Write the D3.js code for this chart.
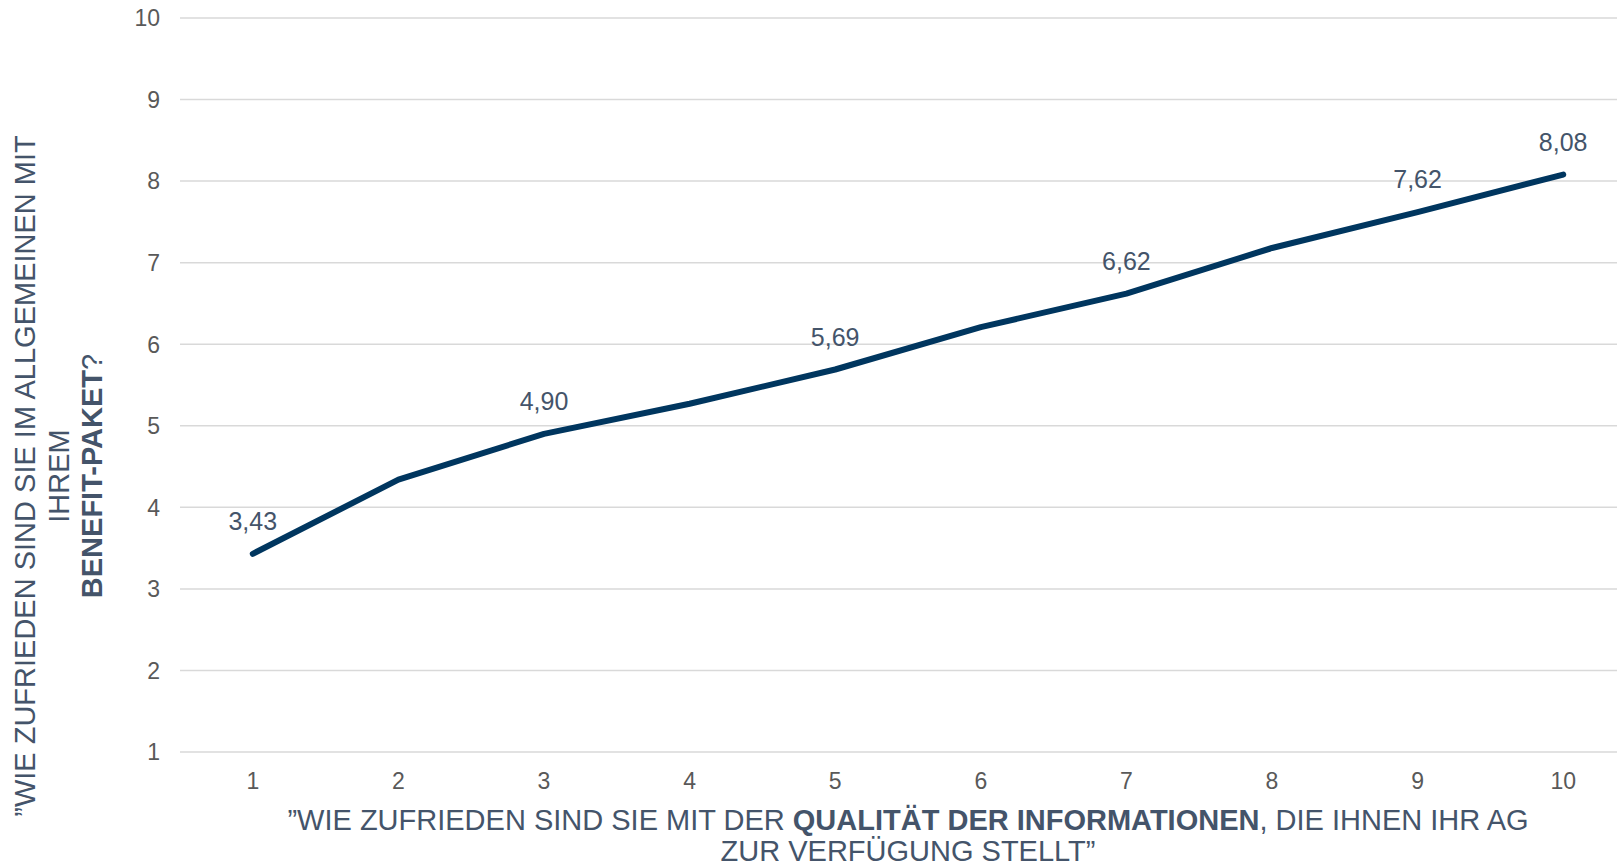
<!DOCTYPE html>
<html>
<head>
<meta charset="utf-8">
<script src="https://cdn.jsdelivr.net/npm/d3@7"></script>
<style>
    body { margin: 0; background: #fff; }
    svg { display: block; font-family: "Liberation Sans", Arial, sans-serif; }
</style>
</head>
<body>
<svg id="chart"></svg>
<script>
// answer scale on the x axis, mean benefit satisfaction on the y axis
const categories = [1, 2, 3, 4, 5, 6, 7, 8, 9, 10];
const values = [3.43, 4.34, 4.90, 5.27, 5.69, 6.21, 6.62, 7.18, 7.62, 8.08];
const labelled = [1, 3, 5, 7, 9, 10];
const yTicks = [1, 2, 3, 4, 5, 6, 7, 8, 9, 10];

const width = 1617, height = 864;
const margin = { top: 18, left: 180, bottom: 112 };
const plotRight = 1636; // the plot runs past the window edge

const svg = d3.select('#chart')
    .attr('width', width)
    .attr('height', height);

const x = d3.scaleBand()
    .domain(categories)
    .range([margin.left, plotRight]);

const y = d3.scaleLinear()
    .domain([1, 10])
    .range([height - margin.bottom, margin.top]);

// gridlines
svg.append('g')
    .selectAll('line')
    .data(yTicks)
    .enter()
    .append('line')
    .attr('x1', margin.left)
    .attr('x2', plotRight)
    .attr('y1', d => y(d))
    .attr('y2', d => y(d))
    .attr('stroke', '#d9d9d9')
    .attr('stroke-width', 1.5);

// y tick labels
svg.append('g')
    .selectAll('text')
    .data(yTicks)
    .enter()
    .append('text')
    .attr('x', 160)
    .attr('y', d => y(d))
    .attr('dy', '0.36em')
    .attr('text-anchor', 'end')
    .attr('font-size', 23)
    .attr('fill', '#595959')
    .text(d => d);

// x tick labels
svg.append('g')
    .selectAll('text')
    .data(categories)
    .enter()
    .append('text')
    .attr('x', d => x(d) + x.bandwidth() / 2)
    .attr('y', 789)
    .attr('text-anchor', 'middle')
    .attr('font-size', 23)
    .attr('fill', '#595959')
    .text(d => d);

const line = d3.line()
    .x((d, i) => x(categories[i]) + x.bandwidth() / 2)
    .y(d => y(d));

svg.append('path')
    .datum(values)
    .attr('d', line)
    .attr('fill', 'none')
    .attr('stroke', '#00365f')
    .attr('stroke-width', 6)
    .attr('stroke-linecap', 'round')
    .attr('stroke-linejoin', 'round');

// data labels
svg.append('g')
    .selectAll('text')
    .data(categories.filter(c => labelled.includes(c)))
    .enter()
    .append('text')
    .attr('x', d => x(d) + x.bandwidth() / 2)
    .attr('y', d => y(values[categories.indexOf(d)]) - 24)
    .attr('text-anchor', 'middle')
    .attr('font-size', 25)
    .attr('fill', '#44546a')
    .text(d => values[categories.indexOf(d)].toFixed(2).replace('.', ','));

// x axis title
const xt = svg.append('text')
    .attr('x', (margin.left + plotRight) / 2)
    .attr('y', 830)
    .attr('text-anchor', 'middle')
    .attr('font-size', 29)
    .attr('fill', '#44546a');
xt.append('tspan').text('”WIE ZUFRIEDEN SIND SIE MIT DER ');
xt.append('tspan').attr('font-weight', 'bold').text('QUALITÄT DER INFORMATIONEN');
xt.append('tspan').text(', DIE IHNEN IHR AG');
svg.append('text')
    .attr('x', (margin.left + plotRight) / 2)
    .attr('y', 861)
    .attr('text-anchor', 'middle')
    .attr('font-size', 29)
    .attr('fill', '#44546a')
    .text('ZUR VERFÜGUNG STELLT”');

// y axis title, three rotated lines
const yt = svg.append('g')
    .attr('transform', 'translate(0,476) rotate(-90)');
yt.append('text')
    .attr('x', 0).attr('y', 35)
    .attr('text-anchor', 'middle')
    .attr('font-size', 29)
    .attr('fill', '#44546a')
    .text('”WIE ZUFRIEDEN SIND SIE IM ALLGEMEINEN MIT');
yt.append('text')
    .attr('x', 0).attr('y', 68.5)
    .attr('text-anchor', 'middle')
    .attr('font-size', 29)
    .attr('fill', '#44546a')
    .text('IHREM');
const yb = yt.append('text')
    .attr('x', 0).attr('y', 102)
    .attr('text-anchor', 'middle')
    .attr('font-size', 29)
    .attr('fill', '#44546a');
yb.append('tspan').attr('font-weight', 'bold').text('BENEFIT-PAKET');
yb.append('tspan').text('?');
</script>
</body>
</html>
